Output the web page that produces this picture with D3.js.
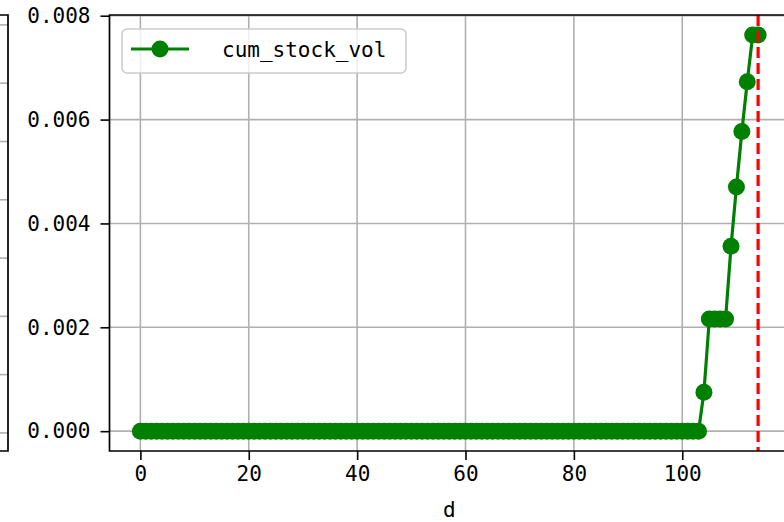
<!DOCTYPE html>
<html>
<head>
<meta charset="utf-8">
<script src="https://cdn.jsdelivr.net/npm/d3@7"></script>
<style>
  body { margin: 0; background: #fff; }
  svg { display: block; }
</style>
</head>
<body>
<svg id="viz"></svg>
<script>
// --- Data ---
const days = d3.range(0, 115);
// 0..103 flat at zero, then the ramp
const rampValues = [0.00075, 0.00216, 0.00216, 0.00216, 0.00216, 0.00356, 0.00470, 0.00577, 0.00673, 0.00763, 0.00763];
const cumStockVol = days.map(d => d < 104 ? 0 : rampValues[d - 104]);
const xTicks = [0, 20, 40, 60, 80, 100];
const yTicks = [0, 0.002, 0.004, 0.006, 0.008];
const markerDay = 114;
const seriesName = "cum_stock_vol";
const xLabel = "d";
// partial neighbour panel at left edge (only its grid survives)
const leftPanelTicks = [0, 1, 2, 3, 4, 5, 6, 7];

const width = 784;
const height = 522;
const font = "'DejaVu Sans Mono', monospace";

const svg = d3.select("#viz")
  .attr("width", width)
  .attr("height", height);

svg.append("rect").attr("width", width).attr("height", height).attr("fill", "white");

// --- Scales ---
const x = d3.scaleLinear().domain([-5.7, 119.7]).range([109.5, 789]);
const y = d3.scaleLinear().domain([-0.000382, 0.008014]).range([451, 15]);
const yLeft = d3.scaleLinear().domain([-0.31, 7.17]).range([451, 15]);

const gridColor = "#b0b0b0";

// --- Left partial panel ---
svg.append("g")
  .selectAll("line")
  .data(leftPanelTicks)
  .join("line")
  .attr("x1", 0).attr("x2", 8)
  .attr("y1", d => yLeft(d)).attr("y2", d => yLeft(d))
  .attr("stroke", gridColor).attr("stroke-width", 1.6);

svg.append("path")
  .attr("d", `M0,15H8V451H0`)
  .attr("fill", "none")
  .attr("stroke", "black")
  .attr("stroke-width", 1.7);

// --- Grid ---
const grid = svg.append("g").attr("stroke", gridColor).attr("stroke-width", 1.6);
grid.selectAll(".gx")
  .data(xTicks)
  .join("line")
  .attr("x1", d => x(d)).attr("x2", d => x(d))
  .attr("y1", 15).attr("y2", 451);
grid.selectAll(".gy")
  .data(yTicks)
  .join("line")
  .attr("x1", 109.5).attr("x2", 789)
  .attr("y1", d => y(d)).attr("y2", d => y(d));

// --- Series ---
svg.append("path")
  .datum(days)
  .attr("fill", "none")
  .attr("stroke", "green")
  .attr("stroke-width", 3.2)
  .attr("stroke-linejoin", "round")
  .attr("d", d3.line().x(d => x(d)).y((d, i) => y(cumStockVol[i])));

svg.append("g")
  .selectAll("circle")
  .data(days)
  .join("circle")
  .attr("cx", d => x(d))
  .attr("cy", (d, i) => y(cumStockVol[i]))
  .attr("r", 8.5)
  .attr("fill", "green");

// --- Vertical marker ---
svg.append("line")
  .attr("x1", x(markerDay)).attr("x2", x(markerDay))
  .attr("y1", 15).attr("y2", 451)
  .attr("stroke", "red")
  .attr("stroke-width", 3.2)
  .attr("stroke-dasharray", "11,5");

// --- Axes ---
const xAxis = svg.append("g")
  .attr("transform", "translate(0,451)")
  .call(d3.axisBottom(x).tickValues(xTicks).tickSize(9).tickPadding(6).tickFormat(d3.format("d")));
const yAxis = svg.append("g")
  .attr("transform", "translate(109.5,0)")
  .call(d3.axisLeft(y).tickValues(yTicks).tickSize(9).tickPadding(10).tickFormat(d3.format(".3f")));

[xAxis, yAxis].forEach(g => {
  g.select(".domain").remove();
  g.selectAll(".tick line").attr("stroke", "black").attr("stroke-width", 1.6);
  g.selectAll("text")
    .attr("font-family", font)
    .attr("font-size", 21)
    .attr("fill", "black");
});

// spines
svg.append("path")
  .attr("d", `M${width + 5},15H109.5V451H${width + 5}`)
  .attr("fill", "none")
  .attr("stroke", "black")
  .attr("stroke-width", 1.7);

svg.append("text")
  .attr("x", (109.5 + 789) / 2)
  .attr("y", 517)
  .attr("text-anchor", "middle")
  .attr("font-family", font)
  .attr("font-size", 21)
  .text(xLabel);

// --- Legend ---
const legend = svg.append("g");
legend.append("rect")
  .attr("x", 122).attr("y", 29)
  .attr("width", 284).attr("height", 44)
  .attr("rx", 5)
  .attr("fill", "white").attr("fill-opacity", 0.8)
  .attr("stroke", "#cccccc").attr("stroke-width", 1.6);
legend.append("line")
  .attr("x1", 131).attr("x2", 189)
  .attr("y1", 49).attr("y2", 49)
  .attr("stroke", "green").attr("stroke-width", 3.2);
legend.append("circle")
  .attr("cx", 160).attr("cy", 49).attr("r", 8.5).attr("fill", "green");
legend.append("text")
  .attr("x", 222).attr("y", 57)
  .attr("font-family", font)
  .attr("font-size", 21)
  .text(seriesName);
</script>
</body>
</html>
